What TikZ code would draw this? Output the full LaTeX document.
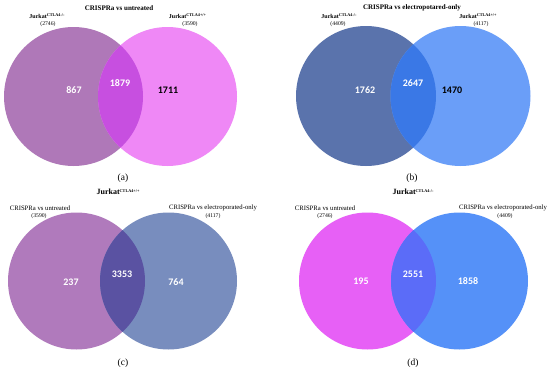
\documentclass[tikz,border=0pt]{standalone}
\usepackage{fontspec}
\setmainfont{Liberation Serif}
\newfontfamily\numfont{Carlito}
\definecolor{aL}{HTML}{AF78B8}
\definecolor{aR}{HTML}{EF88F6}
\definecolor{aX}{HTML}{C74FE0}
\definecolor{bL}{HTML}{5A73AC}
\definecolor{bR}{HTML}{6A9EF8}
\definecolor{bX}{HTML}{3A78E6}
\definecolor{cL}{HTML}{B07ABC}
\definecolor{cR}{HTML}{788DBE}
\definecolor{cX}{HTML}{5A52A2}
\definecolor{dL}{HTML}{E760F6}
\definecolor{dR}{HTML}{5591F8}
\definecolor{dX}{HTML}{5B6CF8}
\newcommand{\jsup}[1]{\raisebox{1.8pt}{\fontsize{4.2}{5}\selectfont #1}}
\tikzset{
  ttl/.style={font=\fontsize{7}{8}\selectfont\bfseries},
  ttlj/.style={font=\fontsize{8}{9}\selectfont\bfseries},
  jlab/.style={font=\fontsize{6}{7}\selectfont\bfseries},
  cnt/.style={font=\fontsize{5.7}{6}\selectfont},
  lab/.style={font=\fontsize{6.7}{7}\selectfont},
  num/.style={font=\numfont\bfseries\fontsize{10}{12}\selectfont,text=white},
  numk/.style={num,text=black},
  subcap/.style={font=\fontsize{9.5}{10}\selectfont}}
\begin{document}
\begin{tikzpicture}[x=1pt,y=-1pt]
\useasboundingbox (0,0) rectangle (550,370);
\fill[white] (0,0) rectangle (550,370);
% ---------- (a)
\coordinate (aLc) at (73.5,96.5);
\coordinate (aRc) at (167.5,96.5);
\fill[aL] (aLc) circle (69.5);
\fill[aR] (aRc) circle (69.5);
\begin{scope}\clip (aLc) circle (69.5); \fill[aX] (aRc) circle (69.5);\end{scope}
\node[ttl] (at) at (119,8.5) {CRISPRa vs untreated};
\node[jlab] (aj1) at (47,16) {Jurkat\jsup{CTLA4-/-}};
\node[cnt] (an1) at (48,24) {(2746)};
\node[jlab] (aj2) at (187.5,16) {Jurkat\jsup{CTLA4+/+}};
\node[cnt] (an2) at (190,24) {(3590)};
\node[num] (a1) at (74,90) {867};
\node[num] (a2) at (120,83) {1879};
\node[numk] (a3) at (168,90) {1711};
\node[subcap] (acap) at (123,178) {(a)};
% ---------- (b)
\coordinate (bLc) at (366,96);
\coordinate (bRc) at (460.5,96);
\fill[bL] (bLc) circle (70);
\fill[bR] (bRc) circle (70);
\begin{scope}\clip (bLc) circle (70); \fill[bX] (bRc) circle (70);\end{scope}
\node[ttl] (bt) at (412,8) {CRISPRa vs electropotared-only};
\node[jlab] (bj1) at (339,16) {Jurkat\jsup{CTLA4-/-}};
\node[cnt] (bn1) at (338,24) {(4409)};
\node[jlab] (bj2) at (478,16) {Jurkat\jsup{CTLA4+/+}};
\node[cnt] (bn2) at (481,24) {(4117)};
\node[num] (b1) at (365,90) {1762};
\node[num] (b2) at (413,83) {2647};
\node[numk] (b3) at (452,90) {1470};
\node[subcap] (bcap) at (412,178) {(b)};
% ---------- (c)
\coordinate (cLc) at (76.5,281);
\coordinate (cRc) at (168.5,281);
\fill[cL] (cLc) circle (68.5);
\fill[cR] (cRc) circle (68.5);
\begin{scope}\clip (cLc) circle (68.5); \fill[cX] (cRc) circle (68.5);\end{scope}
\node[ttlj] (ct) at (118,192) {Jurkat\jsup{CTLA4+/+}};
\node[lab] (cl1) at (40,208) {CRISPRa vs untreated};
\node[cnt] (cn1) at (39,216) {(3590)};
\node[lab] (cl2) at (213,208) {CRISPRa vs electroporated-only};
\node[cnt] (cn2) at (213,216) {(4117)};
\node[num] (c1) at (71,282) {237};
\node[num] (c2) at (122,274) {3353};
\node[num] (c3) at (176,282) {764};
\node[subcap] (ccap) at (123,363) {(c)};
% ---------- (d)
\coordinate (dLc) at (367.5,281);
\coordinate (dRc) at (459.5,281);
\fill[dL] (dLc) circle (68.5);
\fill[dR] (dRc) circle (68.5);
\begin{scope}\clip (dLc) circle (68.5); \fill[dX] (dRc) circle (68.5);\end{scope}
\node[ttlj] (dt) at (413,192) {Jurkat\jsup{CTLA4-/-}};
\node[lab] (dl1) at (325,208) {CRISPRa vs untreated};
\node[cnt] (dn1) at (325,216) {(2746)};
\node[lab] (dl2) at (503,208) {CRISPRa vs electroporated-only};
\node[cnt] (dn2) at (505,216) {(4409)};
\node[num] (d1) at (361,281) {195};
\node[num] (d2) at (413,274) {2551};
\node[num] (d3) at (468,281) {1858};
\node[subcap] (dcap) at (413,363) {(d)};
\end{tikzpicture}
\end{document}
